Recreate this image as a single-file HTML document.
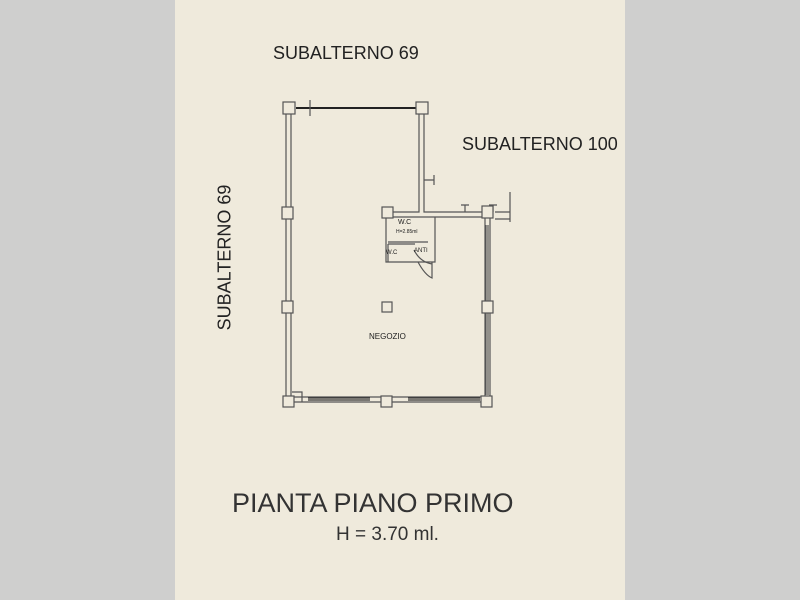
<!DOCTYPE html>
<html><head><style>
body{margin:0;width:800px;height:600px;background:#cfcfce;position:relative;overflow:hidden;font-family:"Liberation Sans",sans-serif}
#p{position:absolute;left:175px;top:0;width:450px;height:600px;background:#efeadc}
.t{position:absolute;color:#222;white-space:nowrap}
</style></head><body>
<div id="p"></div>
<svg width="800" height="600" style="position:absolute;left:0;top:0" fill="none" stroke="#555" stroke-width="1.2">
<path d="M286 108 V402 H490 V212 M419 113 V212 H393 M424 108 V212 H482"/>
<path d="M291 113 V397 H485 V217 H393"/>
<line x1="296" y1="108" x2="418" y2="108" stroke="#222" stroke-width="2"/>
<line x1="310" y1="100" x2="310" y2="116"/>
<path d="M424 180 H434 M434 175 V185"/>
<path d="M465 205 V212 M461 205 H469"/>
<path d="M493 205 V212 M489 205 H497"/>
<path d="M495 212 H510 M510 192 V222 M495 219 H510"/>
<path d="M486 225 V395 M488 225 V395"/>
<path d="M308 400 H370 M308 398 H370 M408 400 H480 M408 398 H480" stroke="#333"/>
<path d="M292 392 H302 V402"/>
<path d="M386 217 V262 H435 V217"/>
<path d="M388 242 H428 M388 244 H415" />
<path d="M388 262 V244"/>
<path d="M414 250 Q420 262 432 264 M418 262 Q425 275 432 278 V262"/>
<g fill="#efeadc" stroke="#555">
<rect x="283" y="102" width="12" height="12"/>
<rect x="416" y="102" width="12" height="12"/>
<rect x="282" y="207" width="11" height="12"/>
<rect x="282" y="301" width="11" height="12"/>
<rect x="283" y="396" width="11" height="11"/>
<rect x="381" y="396" width="11" height="11"/>
<rect x="481" y="396" width="11" height="11"/>
<rect x="482" y="301" width="11" height="12"/>
<rect x="482" y="206" width="11" height="12"/>
<rect x="382" y="207" width="11" height="11"/>
<rect x="382" y="302" width="10" height="10"/>
</g>
</svg>
<div class="t" style="left:273px;top:43px;font-size:18px">SUBALTERNO 69</div>
<div class="t" style="left:462px;top:134px;font-size:18px">SUBALTERNO 100</div>
<div class="t" style="left:145px;top:247px;font-size:18px;width:160px;text-align:center;transform:rotate(-90deg)">SUBALTERNO 69</div>
<div class="t" style="left:398px;top:219px;font-size:7px">W.C</div>
<div class="t" style="left:396px;top:229px;font-size:5px">H=2.85ml</div>
<div class="t" style="left:386px;top:250px;font-size:6px">W.C</div>
<div class="t" style="left:414px;top:248px;font-size:6px">ANTI</div>
<div class="t" style="left:369px;top:332px;font-size:8px">NEGOZIO</div>
<div class="t" style="left:232px;top:488px;font-size:27px;color:#333">PIANTA PIANO PRIMO</div>
<div class="t" style="left:336px;top:524px;font-size:19px;color:#333">H = 3.70 ml.</div>
</body></html>
